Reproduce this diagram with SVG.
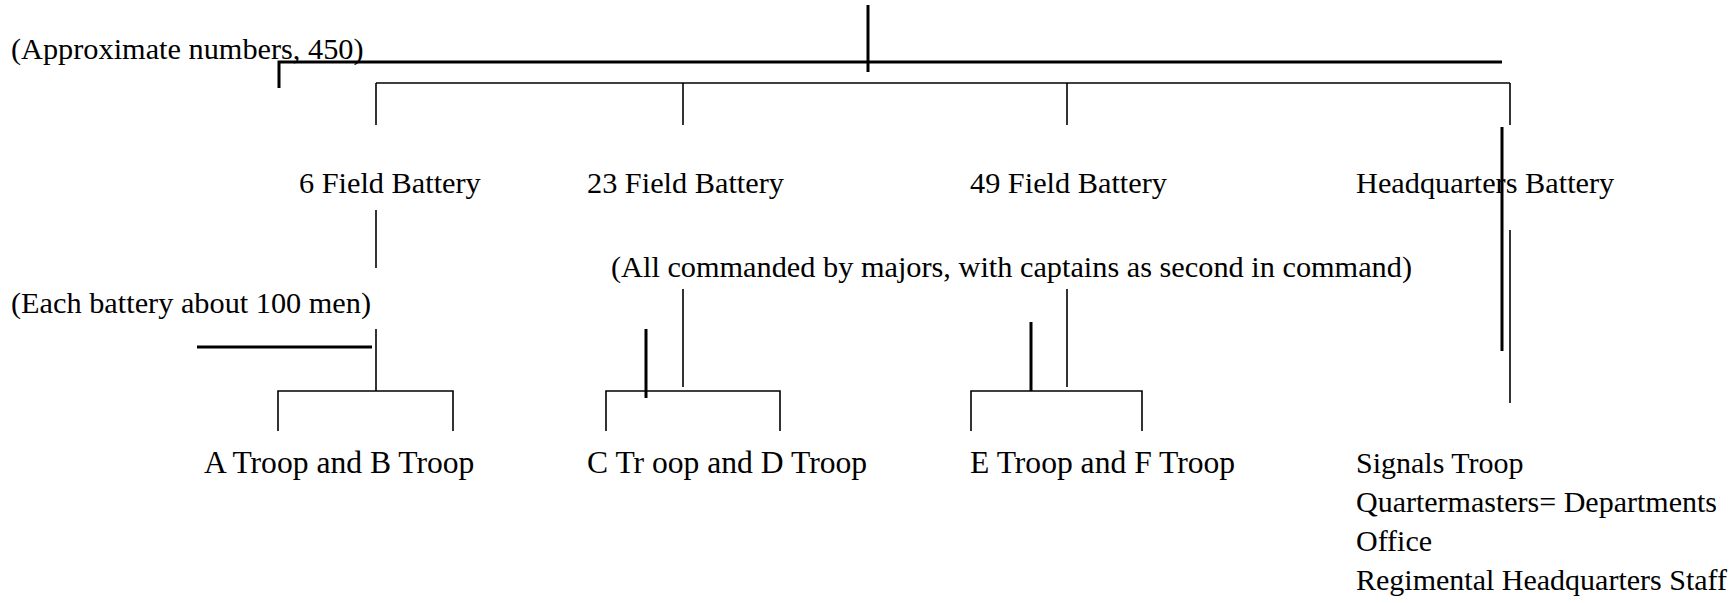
<svg xmlns="http://www.w3.org/2000/svg" width="1732" height="603" viewBox="0 0 1732 603">
<style>
  .t { font-family: "Liberation Serif", "Times New Roman", serif; font-size: 30.3px; fill: #000; }
  .tr { font-size: 31.6px; }
  .hq { font-size: 30px; }
  .thick { stroke: #000; stroke-width: 3; fill: none; }
  .thin { stroke: #000; stroke-width: 1.6; fill: none; }
</style>
<rect width="1732" height="603" fill="#fff"/>
<g id="connectors">
  <line class="thick" x1="868" y1="5" x2="868" y2="72"/>
  <polyline class="thick" points="279,88 279,62 1502,62"/>
  <line class="thin" x1="376" y1="83" x2="1510" y2="83"/>
  <line class="thin" x1="376" y1="83" x2="376" y2="125"/>
  <line class="thin" x1="683" y1="83" x2="683" y2="125"/>
  <line class="thin" x1="1067" y1="83" x2="1067" y2="125"/>
  <line class="thin" x1="1510" y1="83" x2="1510" y2="125"/>
  <line class="thick" x1="1502" y1="127" x2="1502" y2="351"/>
  <line class="thin" x1="1510" y1="230" x2="1510" y2="403"/>
  <line class="thin" x1="376" y1="210" x2="376" y2="268"/>
  <line class="thick" x1="197" y1="347" x2="372" y2="347"/>
  <line class="thin" x1="376" y1="329" x2="376" y2="391"/>
  <polyline class="thin" points="278,431 278,391 453,391 453,431"/>
  <line class="thin" x1="683" y1="289" x2="683" y2="387"/>
  <line class="thick" x1="646" y1="329" x2="646" y2="398"/>
  <polyline class="thin" points="606,431 606,391 780,391 780,431"/>
  <line class="thin" x1="1067" y1="289" x2="1067" y2="387"/>
  <line class="thick" x1="1031" y1="322" x2="1031" y2="391"/>
  <polyline class="thin" points="971,431 971,391 1142,391 1142,431"/>
</g>
<g id="note-approx"><text class="t" x="11" y="59">(Approximate numbers, 450)</text></g>
<g id="battery-6"><text class="t" x="299" y="193">6 Field Battery</text></g>
<g id="battery-23"><text class="t" x="587" y="193">23 Field Battery</text></g>
<g id="battery-49"><text class="t" x="970" y="193">49 Field Battery</text></g>
<g id="battery-hq"><text class="t" x="1356" y="193">Headquarters Battery</text></g>
<g id="note-majors"><text class="t" x="611" y="277">(All commanded by majors, with captains as second in command)</text></g>
<g id="note-each"><text class="t" x="11" y="313">(Each battery about 100 men)</text></g>
<g id="troops-ab"><text class="t tr" x="204" y="473">A Troop and B Troop</text></g>
<g id="troops-cd"><text class="t tr" x="587" y="473">C Tr oop and D Troop</text></g>
<g id="troops-ef"><text class="t tr" x="970" y="473">E Troop and F Troop</text></g>
<g id="hq-units">
  <text class="t hq" x="1356" y="473">Signals Troop</text>
  <text class="t hq" x="1356" y="512">Quartermasters= Departments</text>
  <text class="t hq" x="1356" y="551">Office</text>
  <text class="t hq" x="1356" y="590">Regimental Headquarters Staff</text>
</g>
</svg>
